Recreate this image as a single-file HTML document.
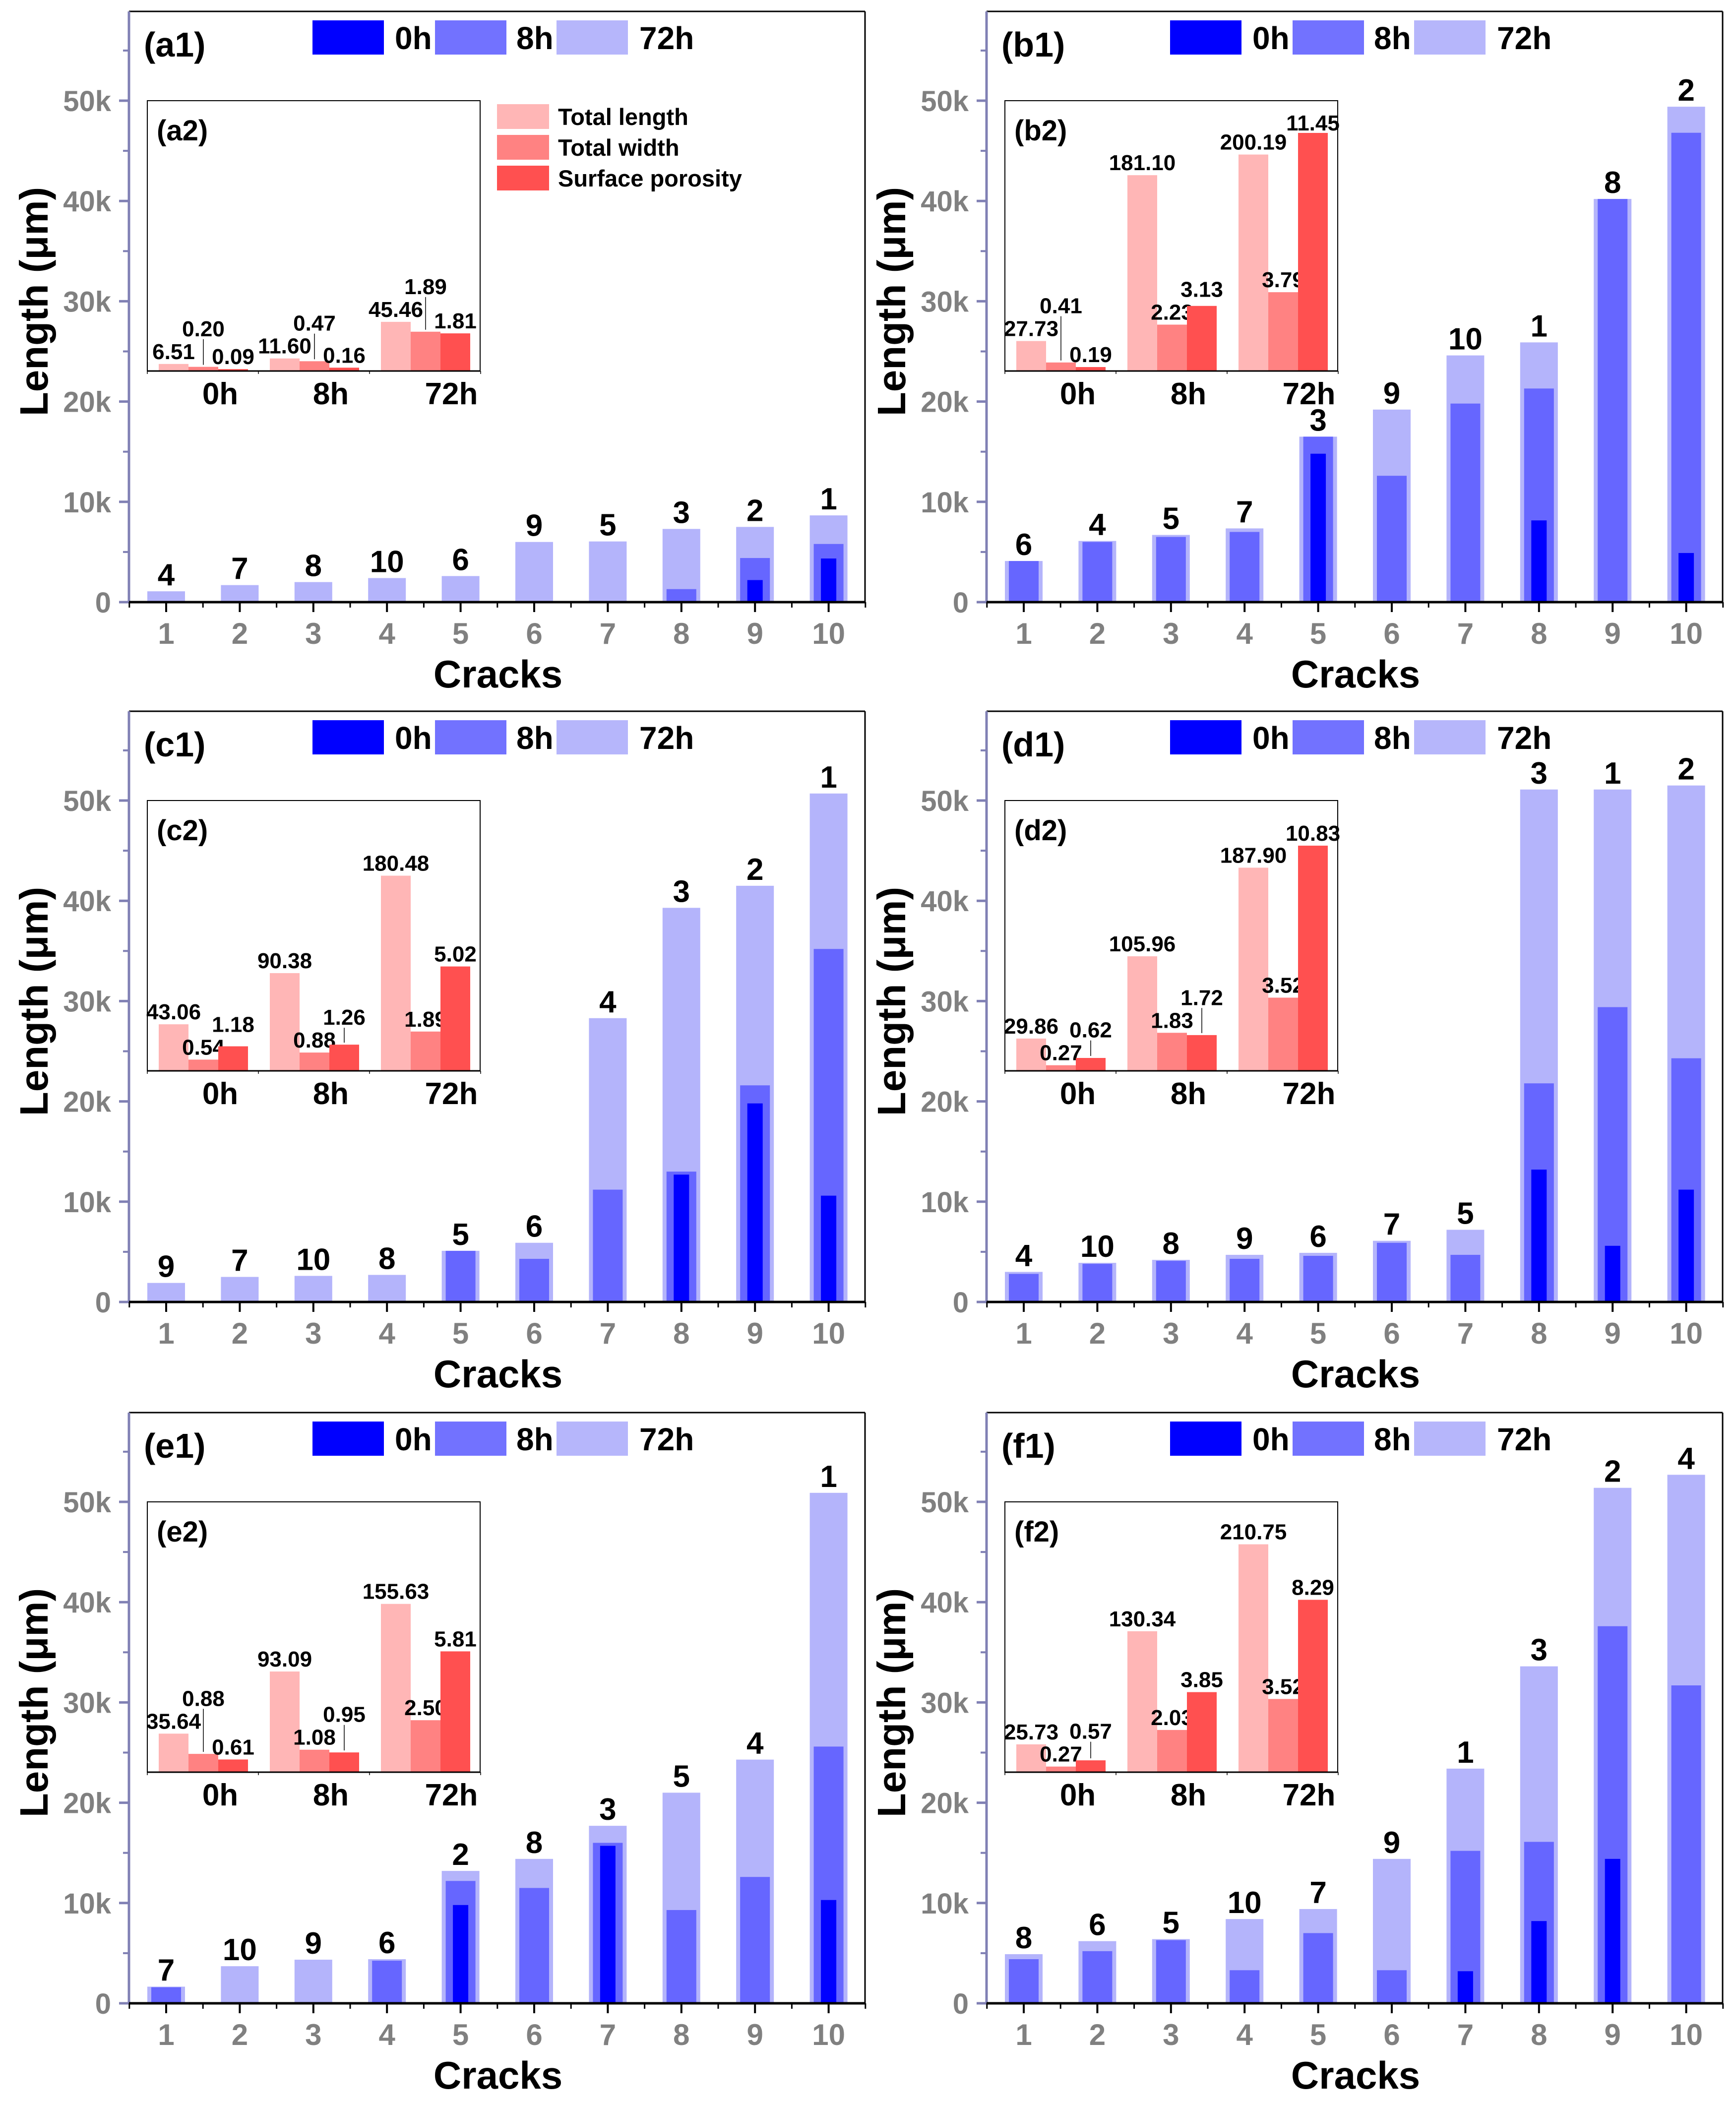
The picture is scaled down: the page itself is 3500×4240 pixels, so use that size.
<!DOCTYPE html>
<html><head><meta charset="utf-8"><style>
html,body{margin:0;padding:0;background:#fff;}
svg{display:block;font-family:"Liberation Sans",Arial,sans-serif;font-weight:bold;}
</style></head><body>
<svg id="fig" width="3500" height="4240" viewBox="0 0 3500 4240" xmlns="http://www.w3.org/2000/svg"></svg>
<script>
// ---- main chart data (values in thousands of µm) ----
const crackTicks = [1,2,3,4,5,6,7,8,9,10];
const yTickValues = [0,10,20,30,40,50];
const yTickLabels = ["0","10k","20k","30k","40k","50k"];

const aLabels = [4,7,8,10,6,9,5,3,2,1];
const a72 = [1.08,1.7,2.0,2.4,2.6,6.0,6.05,7.3,7.5,8.65];
const a8  = [0,0,0,0,0,0,0,1.3,4.4,5.8];
const a0  = [0,0,0,0,0,0,0,0,2.2,4.35];

const bLabels = [6,4,5,7,3,9,10,1,8,2];
const b72 = [4.1,6.1,6.7,7.35,16.5,19.2,24.6,25.9,40.2,49.4];
const b8  = [4.1,6.0,6.5,7.0,16.5,12.6,19.8,21.3,40.2,46.8];
const b0  = [0,0,0,0,14.8,0,0,8.15,0,4.9];

const cLabels = [9,7,10,8,5,6,4,3,2,1];
const c72 = [1.9,2.5,2.6,2.7,5.1,5.9,28.3,39.3,41.5,50.7];
const c8  = [0,0,0,0,5.1,4.3,11.2,13.0,21.6,35.2];
const c0  = [0,0,0,0,0,0,0,12.7,19.8,10.6];

const dLabels = [4,10,8,9,6,7,5,3,1,2];
const d72 = [3.0,3.9,4.2,4.7,4.9,6.1,7.2,51.1,51.1,51.5];
const d8  = [2.8,3.8,4.1,4.3,4.6,5.9,4.7,21.8,29.4,24.3];
const d0  = [0,0,0,0,0,0,0,13.2,5.6,11.2];

const eLabels = [7,10,9,6,2,8,3,5,4,1];
const e72 = [1.66,3.7,4.35,4.4,13.2,14.4,17.7,21.0,24.3,50.9];
const e8  = [1.6,0,0,4.25,12.2,11.5,16.0,9.3,12.6,25.6];
const e0  = [0,0,0,0,9.8,0,15.7,0,0,10.3];

const fLabels = [8,6,5,10,7,9,1,3,2,4];
const f72 = [4.9,6.2,6.4,8.4,9.4,14.4,23.4,33.6,51.4,52.7];
const f8  = [4.4,5.2,6.3,3.3,7.0,3.3,15.2,16.1,37.6,31.7];
const f0  = [0,0,0,0,0,0,3.2,8.2,14.4,0];

// ---- inset data: [0h, 8h, 72h] ----
const insetGroups = ["0h","8h","72h"];
const aLen = [6.51,11.60,45.46]; const aWid = [0.20,0.47,1.89]; const aPor = [0.09,0.16,1.81];
const bLen = [27.73,181.10,200.19]; const bWid = [0.41,2.23,3.79]; const bPor = [0.19,3.13,11.45];
const cLen = [43.06,90.38,180.48]; const cWid = [0.54,0.88,1.89]; const cPor = [1.18,1.26,5.02];
const dLen = [29.86,105.96,187.90]; const dWid = [0.27,1.83,3.52]; const dPor = [0.62,1.72,10.83];
const eLen = [35.64,93.09,155.63]; const eWid = [0.88,1.08,2.50]; const ePor = [0.61,0.95,5.81];
const fLen = [25.73,130.34,210.75]; const fWid = [0.27,2.03,3.52]; const fPor = [0.57,3.85,8.29];

const panels = [
 {id:"a",col:0,row:0,labels:aLabels,v72:a72,v8:a8,v0:a0,len:aLen,wid:aWid,por:aPor,legend:true},
 {id:"b",col:1,row:0,labels:bLabels,v72:b72,v8:b8,v0:b0,len:bLen,wid:bWid,por:bPor},
 {id:"c",col:0,row:1,labels:cLabels,v72:c72,v8:c8,v0:c0,len:cLen,wid:cWid,por:cPor},
 {id:"d",col:1,row:1,labels:dLabels,v72:d72,v8:d8,v0:d0,len:dLen,wid:dWid,por:dPor},
 {id:"e",col:0,row:2,labels:eLabels,v72:e72,v8:e8,v0:e0,len:eLen,wid:eWid,por:ePor},
 {id:"f",col:1,row:2,labels:fLabels,v72:f72,v8:f8,v0:f0,len:fLen,wid:fWid,por:fPor},
];

const NS="http://www.w3.org/2000/svg";
const svg=document.getElementById('fig');
function mk(tag,attrs,parent,text){const e=document.createElementNS(NS,tag);for(const k in attrs)e.setAttribute(k,attrs[k]);if(text!==undefined)e.textContent=text;(parent||svg).appendChild(e);return e;}

const colOff=[0,1729], zeroYs=[1214,2625,4039];
const PXK=20.22, YMAX=58.9;
const C72="#b4b4fb", C8="#6666ff", C0="#0000ff";
const IL="#ffb6b6", IW="#ff8282", IP="#ff5050";

panels.forEach(p=>{
  const cx=colOff[p.col], z=zeroYs[p.row];
  const axX=260+cx, rX=1744+cx, topY=z-YMAX*PXK;
  const y=v=>z-v*PXK;
  const x=i=>335+cx+i*148.4;
  const g=mk('g',{});
  
  

  // bars
  p.v72.forEach((v,i)=>{
    const r=mk('rect',{x:x(i)-38,y:y(v),width:76,height:v*PXK,fill:C72},g);
    
    
  });
  p.v8.forEach((v,i)=>{ if(v<=0)return;
    const r=mk('rect',{x:x(i)-30,y:y(v),width:60,height:v*PXK,fill:C8},g);
    
    
  });
  p.v0.forEach((v,i)=>{ if(v<=0)return;
    const r=mk('rect',{x:x(i)-15.5,y:y(v),width:31,height:v*PXK,fill:C0},g);
    
    
  });
  p.labels.forEach((l,i)=>{
    const t=mk('text',{x:x(i),y:y(p.v72[i])-12,'font-size':62,'text-anchor':'middle',fill:'#000'},g,String(l));
    
    
  });

  // frame
  mk('line',{x1:axX,y1:topY,x2:rX,y2:topY,stroke:'#000','stroke-width':3},g);
  mk('line',{x1:rX,y1:topY,x2:rX,y2:z,stroke:'#000','stroke-width':3},g);
  const ya=mk('line',{x1:axX,y1:topY,x2:axX,y2:z+2,stroke:'#8080b4','stroke-width':5},g);
  
  
  const xa=mk('line',{x1:axX,y1:z,x2:rX,y2:z,stroke:'#000','stroke-width':5},g);
  
  

  // y ticks
  yTickValues.forEach((v,i)=>{
    mk('line',{x1:axX-20,y1:y(v),x2:axX,y2:y(v),stroke:'#8080b4','stroke-width':5},g);
    const t=mk('text',{x:axX-36,y:y(v)+21,'font-size':58,'text-anchor':'end',fill:'#808080'},g,yTickLabels[i]);
    
    
    mk('line',{x1:axX-12,y1:y(v+5),x2:axX,y2:y(v+5),stroke:'#8080b4','stroke-width':4},g);
  });
  // x ticks
  crackTicks.forEach((c,i)=>{
    mk('line',{x1:x(i),y1:z,x2:x(i),y2:z+20,stroke:'#000','stroke-width':4},g);
    mk('line',{x1:x(i)-74.2,y1:z,x2:x(i)-74.2,y2:z+11,stroke:'#000','stroke-width':3},g);
    const t=mk('text',{x:x(i),y:z+84,'font-size':60,'text-anchor':'middle',fill:'#808080'},g,String(c));
    
    
  });
  mk('line',{x1:x(9)+74.2,y1:z,x2:x(9)+74.2,y2:z+11,stroke:'#000','stroke-width':3},g);

  const xt=mk('text',{x:1004+cx,y:z+172,'font-size':78,'text-anchor':'middle',fill:'#000'},g,'Cracks');
  
  
  const yt=mk('text',{x:0,y:0,'font-size':80,'text-anchor':'middle',fill:'#000',transform:`translate(${96+cx},${z-606}) rotate(-90)`},g,'Length (μm)');
  
  
  const pl=mk('text',{x:290+cx,y:z-1100,'font-size':70,fill:'#000'},g,'('+p.id+'1)');
  
  

  // legend
  const lg=mk('g',{},g);
  
  
  [[630,'#0000ff','0h',796],[877,'#7272ff','8h',1041],[1122,'#b6b6fb','72h',1289]].forEach(d=>{
    const r=mk('rect',{x:d[0]+cx,y:topY+18,width:144,height:69,fill:d[1]},lg);
    
    
    const t=mk('text',{x:d[3]+cx,y:topY+76,'font-size':64,fill:'#000'},lg,d[2]);
    
    
  });

  // inset
  const ig=mk('g',{},g);
  
  
  const bx=297+cx, by=z-1011, bw=671, bh=545, base=by+bh;
  mk('rect',{x:bx,y:by,width:bw,height:bh,fill:'#fff',stroke:'#000','stroke-width':2},ig);
  const sL=v=>v/250*bh, sW=v=>v/13*bh;
  const placed=[];
  insetGroups.forEach((gname,gi)=>{
    const gx=bx+23+gi*224;
    const series=[[p.len[gi],sL(p.len[gi]),IL,'total-length'],[p.wid[gi],sW(p.wid[gi]),IW,'total-width'],[p.por[gi],sW(p.por[gi]),IP,'surface-porosity']];
    let prevY=null;
    series.forEach((s,si)=>{
      const bxx=gx+si*60, top=base-s[1];
      const r=mk('rect',{x:bxx,y:top,width:60,height:s[1],fill:s[2]},ig);
      
      
      let ly=top-10;
      if(prevY!==null && Math.abs(ly-prevY)<44){ ly=Math.min(ly,prevY-46); }
      if(si===1 && prevY!==null && top-10>prevY+44) ly=top-10;
      if(ly<by+60) ly=by+60;
      if(ly<top-30) mk('line',{x1:bxx+30,y1:ly+6,x2:bxx+30,y2:top-4,stroke:'#000','stroke-width':1.5},ig);
      const t=mk('text',{x:bxx+30,y:ly,'font-size':44,'text-anchor':'middle',fill:'#000'},ig,s[0].toFixed(2));
      
      
      prevY=ly;
    });
  });
  mk('line',{x1:bx,y1:base,x2:bx+bw,y2:base,stroke:'#000','stroke-width':3},ig);
  [0,1,2,3].forEach(k=>mk('line',{x1:bx+k*224,y1:base,x2:bx+k*224,y2:base+6,stroke:'#000','stroke-width':1.5},ig));
  [444,667,910].forEach((lx,gi)=>{
    const t=mk('text',{x:lx+cx,y:base+67,'font-size':62,'text-anchor':'middle',fill:'#000'},ig,insetGroups[gi]);
    
    
  });
  const il=mk('text',{x:316+cx,y:by+80,'font-size':58,fill:'#000'},ig,'('+p.id+'2)');
  
  

  if(p.legend){
    const l2=mk('g',{},g);
    
    
    [['Total length',IL,210],['Total width',IW,272],['Surface porosity',IP,334]].forEach(d=>{
      mk('rect',{x:1002,y:d[2],width:105,height:50,fill:d[1]},l2);
      const t=mk('text',{x:1125,y:d[2]+42,'font-size':47,fill:'#000'},l2,d[0]);
      
      
    });
  }
});
</script>
</body></html>
